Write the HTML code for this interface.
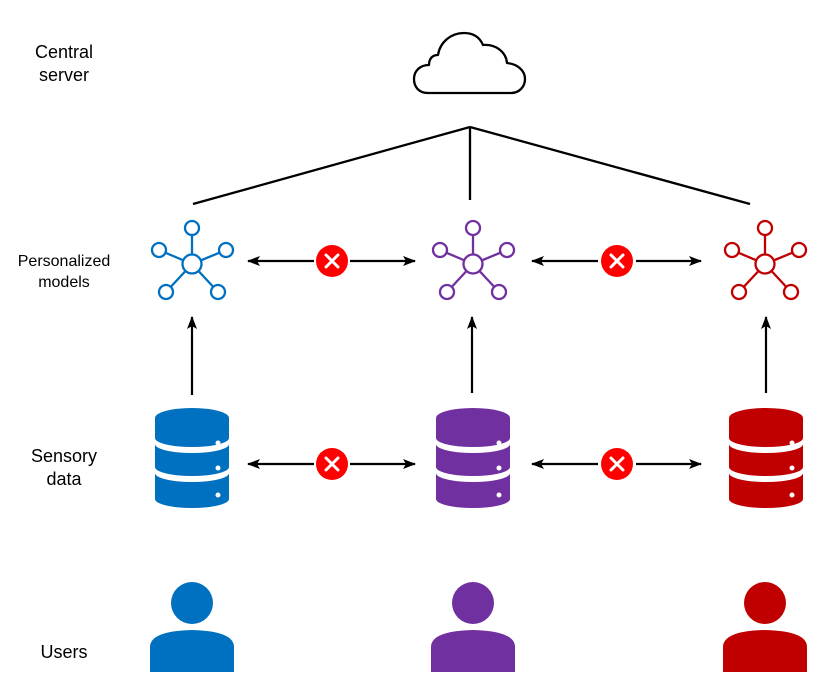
<!DOCTYPE html>
<html><head><meta charset="utf-8"><style>
body{margin:0;background:#fff;}
svg{display:block}
text{font-family:"Liberation Sans",Arial,sans-serif;fill:#000}
</style></head><body>
<svg width="830" height="693" viewBox="0 0 830 693" xmlns="http://www.w3.org/2000/svg">
<defs>
<marker id="ah" markerWidth="13" markerHeight="10" refX="12" refY="5" orient="auto" markerUnits="userSpaceOnUse">
<path d="M0,0 L13,5 L0,10 L3,5 Z" fill="#000"/></marker>
<g id="net" fill="#fff" stroke-width="2.3">
<line x1="0" y1="0" x2="0" y2="-36"/><line x1="0" y1="0" x2="34" y2="-14"/><line x1="0" y1="0" x2="-33" y2="-14"/>
<line x1="0" y1="0" x2="-26" y2="28"/><line x1="0" y1="0" x2="26" y2="28"/>
<circle r="9.5"/><circle cx="0" cy="-36" r="7"/><circle cx="34" cy="-14" r="7"/><circle cx="-33" cy="-14" r="7"/>
<circle cx="-26" cy="28" r="7"/><circle cx="26" cy="28" r="7"/>
</g>
<g id="db">
<path d="M-37,-46 A37,10 0 0 1 37,-46 L37,-26 A37,9 0 0 1 -37,-26 Z"/>
<path d="M-37,-20 A37,9 0 0 0 37,-20 L37,3 A37,9 0 0 1 -37,3 Z"/>
<path d="M-37,9 A37,9 0 0 0 37,9 L37,35 A37,9 0 0 1 -37,35 Z"/>
<circle cx="26" cy="-21" r="2.5" fill="#fff"/><circle cx="26" cy="4" r="2.5" fill="#fff"/><circle cx="26" cy="31" r="2.5" fill="#fff"/>
</g>
<g id="user">
<circle cx="0" cy="0" r="21"/>
<path d="M-42,69 L-42,44 Q-42,28 0,27 Q42,28 42,44 L42,69 Z"/>
</g>
<g id="x">
<circle r="16" fill="#FF0000"/>
<path d="M-6,-6 L6,6 M6,-6 L-6,6" stroke="#fff" stroke-width="3" stroke-linecap="round"/>
</g>
</defs>

<text x="64" y="58" font-size="18" text-anchor="middle">Central</text>
<text x="64" y="81" font-size="18" text-anchor="middle">server</text>
<text x="64" y="266" font-size="16" text-anchor="middle">Personalized</text>
<text x="64" y="287" font-size="16" text-anchor="middle">models</text>
<text x="64" y="462" font-size="18" text-anchor="middle">Sensory</text>
<text x="64" y="485" font-size="18" text-anchor="middle">data</text>
<text x="64" y="658" font-size="18" text-anchor="middle">Users</text>

<path d="M428,93 C418,93 414,86 414,79 C414,71 420,65 429,65 C429,58 433,55 438,55 C440,42 451,33 464,33 C474,33 480,38 483,45 C496,44 506,52 507,63 C518,64 525,71 525,79 C525,87 519,93 511,93 Z" fill="#fff" stroke="#000" stroke-width="2.3" stroke-linejoin="round"/>

<g stroke="#000" stroke-width="2.3" fill="none">
<line x1="470" y1="127" x2="193" y2="204"/>
<line x1="470" y1="127" x2="470" y2="200"/>
<line x1="470" y1="127" x2="750" y2="204"/>
</g>

<use href="#net" x="192" y="264" stroke="#0070C0"/>
<use href="#net" x="473" y="264" stroke="#7030A0"/>
<use href="#net" x="765" y="264" stroke="#C00000"/>

<g stroke="#000" stroke-width="2.2" fill="none">
<line x1="314" y1="261" x2="248" y2="261" marker-end="url(#ah)"/>
<line x1="350" y1="261" x2="415" y2="261" marker-end="url(#ah)"/>
<line x1="598" y1="261" x2="532" y2="261" marker-end="url(#ah)"/>
<line x1="636" y1="261" x2="701" y2="261" marker-end="url(#ah)"/>
<line x1="314" y1="464" x2="248" y2="464" marker-end="url(#ah)"/>
<line x1="350" y1="464" x2="415" y2="464" marker-end="url(#ah)"/>
<line x1="598" y1="464" x2="532" y2="464" marker-end="url(#ah)"/>
<line x1="636" y1="464" x2="701" y2="464" marker-end="url(#ah)"/>
<line x1="192" y1="395" x2="192" y2="317" marker-end="url(#ah)"/>
<line x1="472" y1="393" x2="472" y2="317" marker-end="url(#ah)"/>
<line x1="766" y1="393" x2="766" y2="317" marker-end="url(#ah)"/>
</g>
<use href="#x" x="332" y="261"/><use href="#x" x="617" y="261"/>
<use href="#x" x="332" y="464"/><use href="#x" x="617" y="464"/>

<use href="#db" x="192" y="464" fill="#0070C0"/>
<use href="#db" x="473" y="464" fill="#7030A0"/>
<use href="#db" x="766" y="464" fill="#C00000"/>

<use href="#user" x="192" y="603" fill="#0070C0"/>
<use href="#user" x="473" y="603" fill="#7030A0"/>
<use href="#user" x="765" y="603" fill="#C00000"/>
</svg>
</body></html>
